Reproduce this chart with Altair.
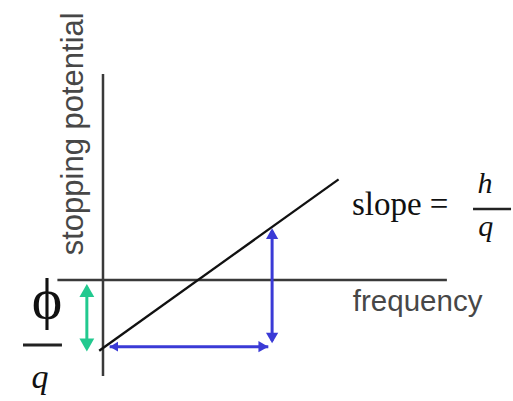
import altair as alt
import pandas as pd

# Stopping potential against light frequency (arbitrary units).
# Threshold frequency f0 = 1, slope h/q = 1, intercept -phi/q = -1.
line_freq = [-0.04, 2.48]
line_potential = [-1.04, 1.48]

# Cross-hair axes through the origin
freq_axis_span = [-0.48, 3.62]      # horizontal axis, at potential 0
potential_axis_span = [-1.41, 3.03]  # vertical axis, at frequency 0

# Double-headed arrows
phi_arrow = {"f": [-0.17], "v": [-1.05], "v2": [-0.06]}          # phi/q
rise_arrow = {"f": [1.78], "v": [-0.93], "v2": [0.76]}           # rise
run_arrow = {"f": [0.07], "f2": [1.74], "v": [-0.98]}            # run

# Text labels anchored in data units
axis_labels = ["stopping potential", "frequency"]
axis_label_f = [-0.21, 2.63]
axis_label_v = [2.15, -0.456]
axis_label_size = [31, 29.5]

slope_label = "slope ="
slope_label_at = (2.62, 0.956)

frac_upright = ["ϕ"]
frac_upright_f = [-0.589]
frac_upright_v = [-0.559]

frac_italic = ["h", "q", "q"]
frac_italic_f = [4.02, 4.03, -0.663]
frac_italic_v = [1.279, 0.654, -1.588]
frac_italic_size = [30, 30, 34]

# Fraction bars: (f, f2, v)
bar_f = [3.895, -0.842]
bar_f2 = [4.295, -0.432]
bar_v = [1.044, -0.956]
bar_w = [2.5, 3.0]

xs = alt.Scale(domain=[-1.0842, 4.3158], nice=False, zero=False)
ys = alt.Scale(domain=[-1.7794, 4.1176], nice=False, zero=False)

def X(field):
    return alt.X(field, type="quantitative", scale=xs, axis=None)

def Y(field):
    return alt.Y(field, type="quantitative", scale=ys, axis=None)

AXIS_COLOR = "#3a3a3a"
BLUE = "#3a3ad6"
GREEN = "#22c98f"

axes_df_h = pd.DataFrame({"f": [freq_axis_span[0]], "f2": [freq_axis_span[1]], "v": [0.0]})
axes_df_v = pd.DataFrame({"f": [0.0], "v": [potential_axis_span[0]], "v2": [potential_axis_span[1]]})

h_axis = alt.Chart(axes_df_h).mark_rule(color=AXIS_COLOR, strokeWidth=2.5).encode(
    x=X("f"), x2="f2", y=Y("v"))
v_axis = alt.Chart(axes_df_v).mark_rule(color=AXIS_COLOR, strokeWidth=2.5).encode(
    x=X("f"), y=Y("v"), y2="v2")

line_df = pd.DataFrame({"f": line_freq, "v": line_potential})
fit_line = alt.Chart(line_df).mark_line(color="#111111", strokeWidth=2.3).encode(
    x=X("f"), y=Y("v"))


def vertical_arrow(d, color, head):
    df = pd.DataFrame(d)
    off = (3 ** 0.5) * (head ** 0.5) / 4
    shaft = alt.Chart(df).mark_rule(color=color, strokeWidth=3, yOffset=-off * 0.5, y2Offset=off * 0.5).encode(
        x=X("f"), y=Y("v"), y2="v2")
    top = alt.Chart(df).mark_point(shape="triangle-up", filled=True, opacity=1, color=color,
                                   size=head, yOffset=off).encode(x=X("f"), y=Y("v2"))
    bottom = alt.Chart(df).mark_point(shape="triangle-down", filled=True, opacity=1, color=color,
                                      size=head, yOffset=-off).encode(x=X("f"), y=Y("v"))
    return [shaft, top, bottom]


def horizontal_arrow(d, color, head):
    df = pd.DataFrame(d)
    off = (3 ** 0.5) * (head ** 0.5) / 4
    shaft = alt.Chart(df).mark_rule(color=color, strokeWidth=3).encode(
        x=X("f"), x2="f2", y=Y("v"))
    left = alt.Chart(df).mark_point(shape="triangle-left", filled=True, opacity=1, color=color,
                                    size=head * 0.7, xOffset=off * 0.85).encode(x=X("f"), y=Y("v"))
    right = alt.Chart(df).mark_point(shape="triangle-right", filled=True, opacity=1, color=color,
                                     size=head, xOffset=-off).encode(x=X("f2"), y=Y("v"))
    return [shaft, left, right]


arrows = (vertical_arrow(phi_arrow, GREEN, 220)
          + vertical_arrow(rise_arrow, BLUE, 150)
          + horizontal_arrow(run_arrow, BLUE, 130))

ylabel_df = pd.DataFrame({"f": [axis_label_f[0]], "v": [axis_label_v[0]], "t": [axis_labels[0]]})
xlabel_df = pd.DataFrame({"f": [axis_label_f[1]], "v": [axis_label_v[1]], "t": [axis_labels[1]]})

ylabel = alt.Chart(ylabel_df).mark_text(
    font="Liberation Sans", fontSize=axis_label_size[0], color="#474747", angle=270,
    align="center", baseline="alphabetic").encode(x=X("f"), y=Y("v"), text="t:N")
xlabel = alt.Chart(xlabel_df).mark_text(
    font="Liberation Sans", fontSize=axis_label_size[1], color="#474747",
    align="left", baseline="alphabetic").encode(x=X("f"), y=Y("v"), text="t:N")

slope_df = pd.DataFrame({"f": [slope_label_at[0]], "v": [slope_label_at[1]], "t": [slope_label]})
slope_text = alt.Chart(slope_df).mark_text(
    font="Liberation Serif", fontSize=33, color="#111111",
    align="left", baseline="alphabetic").encode(x=X("f"), y=Y("v"), text="t:N")

phi_df = pd.DataFrame({"f": frac_upright_f, "v": frac_upright_v, "t": frac_upright})
phi_text = alt.Chart(phi_df).mark_text(
    font="Liberation Serif", fontSize=58, color="#111111",
    align="center", baseline="alphabetic").encode(x=X("f"), y=Y("v"), text="t:N")

ital_df = pd.DataFrame({"f": frac_italic_f, "v": frac_italic_v, "t": frac_italic, "s": frac_italic_size})
ital_text = alt.Chart(ital_df).mark_text(
    font="Liberation Serif", fontStyle="italic", color="#111111",
    align="center", baseline="alphabetic").encode(
    x=X("f"), y=Y("v"), text="t:N",
    size=alt.Size("s:Q", scale=None, legend=None))

bars_df = pd.DataFrame({"f": bar_f, "f2": bar_f2, "v": bar_v, "w": bar_w})
bars = alt.Chart(bars_df).mark_rule(color="#222222").encode(
    x=X("f"), x2="f2", y=Y("v"),
    strokeWidth=alt.StrokeWidth("w:Q", scale=None, legend=None))

chart = alt.layer(
    h_axis, v_axis, fit_line, *arrows,
    ylabel, xlabel, slope_text, phi_text, ital_text, bars,
).properties(
    width=513, height=401, padding=0, autosize="none", background="white"
).configure_view(stroke=None)

chart.save("out.html", embed_options={"renderer": "svg", "actions": False})
